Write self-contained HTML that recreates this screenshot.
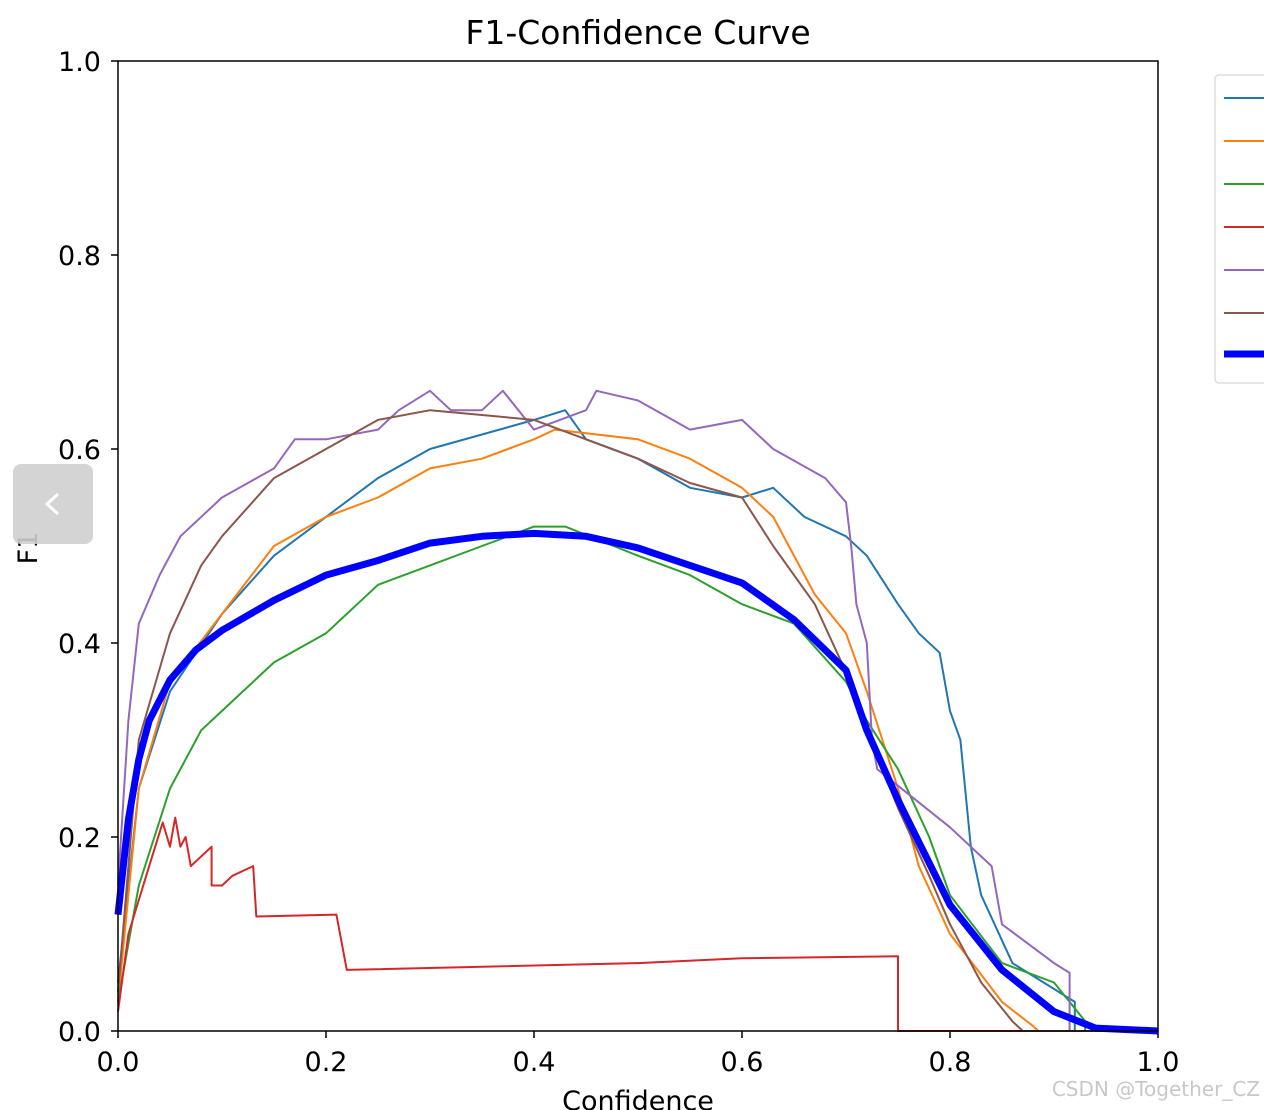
<!DOCTYPE html>
<html><head><meta charset="utf-8"><style>
body{margin:0;background:#fff;width:1264px;height:1110px;overflow:hidden;position:relative;font-family:"Liberation Sans","DejaVu Sans",sans-serif}
svg{position:absolute;left:0;top:0}
</style></head><body>
<svg width="1264" height="1110" id="chart" font-family="DejaVu Sans, Liberation Sans, sans-serif">
<text x="638" y="44" font-size="33" text-anchor="middle">F1-Confidence Curve</text>
<g id="ticks"></g>
<g id="series"></g>
<rect x="118" y="61" width="1040" height="970" fill="none" stroke="#000" stroke-width="1.5"/>
<text x="638" y="1110" font-size="27" text-anchor="middle">Confidence</text>
<text x="0" y="0" font-size="27" text-anchor="middle" transform="translate(37,548) rotate(-90)">F1</text>
<g>
<rect x="1215" y="75" width="60" height="308" rx="4" fill="#fff" stroke="#ddd" stroke-width="1.5"/>
<g id="legend"></g>
</g>
<rect x="13" y="464" width="80" height="80" rx="8" fill="#cfcfcf" opacity="0.9"/>
<path d="M58 494 L47 504 L58 514" fill="none" stroke="#fff" stroke-width="3"/>
<text x="1260" y="1096" font-size="20" fill="#c8c8c8" text-anchor="end">CSDN @Together_CZ</text>
</svg>
<script>
const xTicks=[0,0.2,0.4,0.6,0.8,1.0];
const yTicks=[0,0.2,0.4,0.6,0.8,1.0];
const seriesColors=["#1f77b4","#ff7f0e","#2ca02c","#d62728","#9467bd","#8c564b","#0000ff"];
const c0x=[0,0.02,0.05,0.1,0.15,0.2,0.25,0.3,0.35,0.4,0.43,0.45,0.5,0.55,0.6,0.63,0.66,0.7,0.72,0.75,0.77,0.79,0.8,0.81,0.82,0.83,0.86,0.92,0.92,1.0];
const c0y=[0.05,0.25,0.35,0.43,0.49,0.53,0.57,0.6,0.615,0.63,0.64,0.61,0.59,0.56,0.55,0.56,0.53,0.51,0.49,0.44,0.41,0.39,0.33,0.3,0.19,0.14,0.07,0.03,0,0];
const c1x=[0,0.02,0.05,0.1,0.15,0.2,0.25,0.3,0.35,0.4,0.42,0.5,0.55,0.6,0.63,0.67,0.7,0.72,0.75,0.77,0.8,0.85,0.88,0.885,1.0];
const c1y=[0.03,0.25,0.36,0.43,0.5,0.53,0.55,0.58,0.59,0.61,0.62,0.61,0.59,0.56,0.53,0.45,0.41,0.35,0.25,0.17,0.1,0.03,0.005,0,0];
const c2x=[0,0.02,0.05,0.08,0.1,0.15,0.2,0.25,0.3,0.35,0.4,0.43,0.5,0.55,0.6,0.65,0.7,0.72,0.75,0.78,0.8,0.85,0.9,0.93,0.93,1.0];
const c2y=[0.03,0.15,0.25,0.31,0.33,0.38,0.41,0.46,0.48,0.5,0.52,0.52,0.49,0.47,0.44,0.42,0.36,0.32,0.27,0.2,0.14,0.07,0.05,0.01,0,0];
const c3x=[0,0.01,0.03,0.043,0.05,0.055,0.06,0.065,0.07,0.09,0.09,0.1,0.11,0.13,0.133,0.21,0.22,0.5,0.6,0.75,0.75,1.0];
const c3y=[0.02,0.1,0.17,0.215,0.19,0.22,0.19,0.2,0.17,0.19,0.15,0.15,0.16,0.17,0.118,0.12,0.063,0.07,0.075,0.077,0,0];
const c4x=[0,0.01,0.02,0.04,0.06,0.1,0.15,0.17,0.2,0.25,0.27,0.3,0.32,0.35,0.37,0.4,0.45,0.46,0.5,0.55,0.6,0.63,0.68,0.7,0.705,0.71,0.72,0.725,0.73,0.8,0.84,0.85,0.9,0.915,0.915,1.0];
const c4y=[0.15,0.32,0.42,0.47,0.51,0.55,0.58,0.61,0.61,0.62,0.64,0.66,0.64,0.64,0.66,0.62,0.64,0.66,0.65,0.62,0.63,0.6,0.57,0.545,0.5,0.44,0.4,0.3,0.27,0.21,0.17,0.11,0.07,0.06,0,0];
const c5x=[0,0.02,0.05,0.08,0.1,0.15,0.2,0.25,0.3,0.35,0.4,0.45,0.5,0.55,0.6,0.63,0.67,0.7,0.72,0.75,0.78,0.8,0.83,0.86,0.87,1.0];
const c5y=[0.04,0.3,0.41,0.48,0.51,0.57,0.6,0.63,0.64,0.635,0.63,0.61,0.59,0.565,0.55,0.5,0.44,0.37,0.31,0.23,0.16,0.11,0.05,0.01,0,0];
const allx=[0,0.01,0.02,0.03,0.05,0.075,0.1,0.15,0.2,0.25,0.3,0.35,0.4,0.45,0.5,0.55,0.6,0.65,0.7,0.72,0.75,0.8,0.85,0.9,0.94,1.0];
const ally=[0.12,0.218,0.28,0.32,0.362,0.393,0.413,0.444,0.47,0.485,0.503,0.51,0.513,0.51,0.498,0.48,0.462,0.424,0.372,0.31,0.238,0.13,0.063,0.02,0.003,0];
const NS="http://www.w3.org/2000/svg";
const X=v=>118+v*1040, Y=v=>1031-v*970;
const tk=document.getElementById('ticks');
function mk(tag,attrs,parent){const e=document.createElementNS(NS,tag);for(const k in attrs)e.setAttribute(k,attrs[k]);parent.appendChild(e);return e;}
xTicks.forEach(t=>{
  const l=mk('line',{x1:X(t),x2:X(t),y1:1031,y2:1038,stroke:'#000','stroke-width':1.5},tk);
  
  
  const s=mk('text',{x:X(t),y:1071,'font-size':27,'text-anchor':'middle'},tk);
  s.textContent=t.toFixed(1);
  
  
});
yTicks.forEach(t=>{
  const l=mk('line',{x1:111,x2:118,y1:Y(t),y2:Y(t),stroke:'#000','stroke-width':1.5},tk);
  
  
  const s=mk('text',{x:101,y:Y(t)+10,'font-size':27,'text-anchor':'end'},tk);
  s.textContent=t.toFixed(1);
  
  
});
const sets=[[c0x,c0y],[c1x,c1y],[c2x,c2y],[c3x,c3y],[c4x,c4y],[c5x,c5y],[allx,ally]];
const sg=document.getElementById('series'), lg=document.getElementById('legend');
sets.forEach((s,i)=>{
  const d=s[0].map((x,j)=>(j?'L':'M')+X(x).toFixed(1)+' '+Y(s[1][j]).toFixed(1)).join(' ');
  const p=mk('path',{d:d,fill:'none',stroke:seriesColors[i],'stroke-width':i==6?7:2,'stroke-linejoin':'round'},sg);
  
  
  const yy=98+i*43+(i==6?-2:0);
  const ll=mk('line',{x1:1224,x2:1264,y1:yy,y2:yy,stroke:seriesColors[i],'stroke-width':i==6?7:2},lg);
  
  
});
</script>
</body></html>
